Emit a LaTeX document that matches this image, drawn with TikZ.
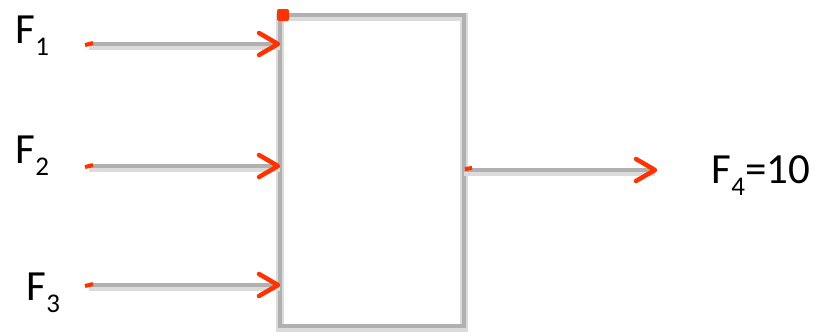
\documentclass[tikz,border=0pt]{standalone}
\usepackage{fontspec}
\setmainfont{Carlito}
\usetikzlibrary{calc}
\definecolor{tipred}{HTML}{FF3300}
\definecolor{linegray}{HTML}{B0B0B0}
\newcommand\fsub[1]{\raisebox{-12pt}{\fontsize{27}{27}\selectfont #1}}
\begin{document}
\begin{tikzpicture}[x=1pt,y=-1pt,
  lbl/.style={inner sep=0pt,anchor=base west,font=\fontsize{43}{43}\selectfont},
  wire/.style={draw=linegray,line width=4pt,
    preaction={draw=linegray!45,line width=8pt,transform canvas={yshift=-1.5pt}}},
  chev/.style={draw=tipred,line width=4.5pt,line cap=round,line join=round},
  tickmark/.style={draw=tipred,line width=4pt}]
\useasboundingbox (0,0) rectangle (827,333);

% block
\node[draw=none,inner sep=0pt,outer sep=0pt,minimum width=184pt,minimum height=311pt] (box) at (372,170.5) {};
\draw[wire] (box.north west) rectangle (box.south east);
\node[fill=tipred,minimum size=12pt,inner sep=0pt,rounded corners=2pt] (corner) at (283,15) {};

% labels
\node[lbl] (f1) at (15.5,43) {F\fsub{1}};
\node[lbl] (f2) at (15.5,163) {F\fsub{2}};
\node[lbl] (f3) at (26.5,300) {F\fsub{3}};
\node[lbl] (f4) at (711.5,183) {F\fsub{4}=10};

% input start points
\coordinate (s1) at (89,44);
\coordinate (s2) at (89,166);
\coordinate (s3) at (89,285);
\coordinate (t1) at ($(box.west|-s1)+(-2,0)$);
\coordinate (t2) at ($(box.west|-s2)+(-2,0)$);
\coordinate (t3) at ($(box.west|-s3)+(-2,0)$);

\foreach \i in {1,2,3}{
  \draw[wire] (s\i) -- (box.west|-s\i);
  \draw[tickmark] ($(s\i)+(-4,1)$) -- ($(s\i)+(4,-1)$);
  \draw[chev] ($(t\i)+(-19,-11)$) -- (t\i) -- ($(t\i)+(-19,11)$);
}

% output
\coordinate (os) at ($(box.east)+(0,-0.5)$);
\coordinate (oe) at (655,170);
\draw[wire] (os) -- (oe);
\draw[tickmark] ($(os)+(1,-1)$) -- ($(os)+(8,-2)$);
\draw[chev] ($(oe)+(-19,-11)$) -- (oe) -- ($(oe)+(-19,11)$);
\end{tikzpicture}
\end{document}
